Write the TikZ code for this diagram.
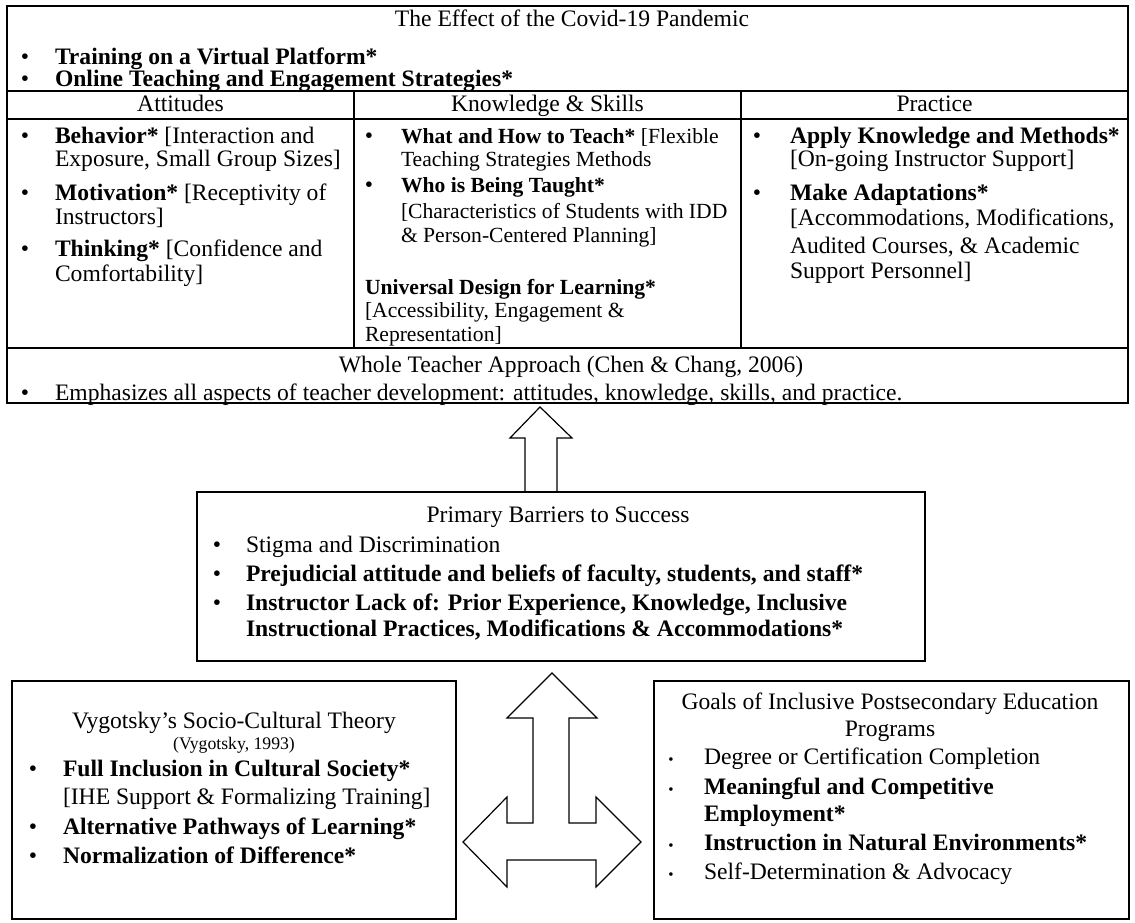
\documentclass[tikz,border=0pt]{standalone}
\usepackage{fontspec}
\setmainfont{Liberation Serif}
\newcommand{\fs}{\fontsize{23.6pt}{25pt}\selectfont}
\newcommand{\fsk}{\fontsize{21.6pt}{23pt}\selectfont}
\newcommand{\fss}{\fontsize{17.7pt}{19pt}\selectfont}
\newcommand{\fsb}{\fontsize{15pt}{15pt}\selectfont}
\tikzset{
  txt/.style={inner sep=0pt, outer sep=0pt, anchor=base west, font=\fs},
  ktxt/.style={inner sep=0pt, outer sep=0pt, anchor=base west, font=\fsk},
  ctr/.style={inner sep=0pt, outer sep=0pt, anchor=base, font=\fs},
  bul/.style={inner sep=0pt, outer sep=0pt, anchor=base, font=\fs},
  sbul/.style={inner sep=0pt, outer sep=0pt, anchor=base, font=\fsb},
  frame/.style={draw=black, line width=1.5pt, inner sep=0pt, outer sep=0pt},
  grid/.style={draw=black, line width=1.3pt},
  blockarrow/.style={draw=black, line width=1.2pt, fill=white, line join=miter}
}
\begin{document}
\begin{tikzpicture}[x=1pt,y=-1pt]
\useasboundingbox (0,0) rectangle (1135,923);
\fill[white] (0,0) rectangle (1135,923);

% ---------- top table ----------
\node[frame, minimum width=1121pt, minimum height=397pt] (tbl) at (567.5,204.5) {};
\draw[grid] (7,91) -- (1128,91);
\draw[grid] (7,119) -- (1128,119);
\draw[grid] (7,348) -- (1128,348);
\draw[grid] (354,91) -- (354,348);
\draw[grid] (741,91) -- (741,348);

\node[ctr] (covid) at (572,27) {The Effect of the Covid-19 Pandemic};
\node[bul] (cb1) at (25,65) {•};
\node[txt] (c1) at (55,65) {\textbf{Training on a Virtual Platform*}};
\node[bul] (cb2) at (25,87) {•};
\node[txt] (c2) at (55,87) {\textbf{Online Teaching and Engagement Strategies*}};

\node[ctr] (hatt) at (180.5,112) {Attitudes};
\node[ctr] (hks) at (547.5,112) {Knowledge \& Skills};
\node[ctr] (hpr) at (934.5,112) {Practice};

% Attitudes
\node[bul] (ab1) at (25,143) {•};
\node[txt] (a1) at (55,143) {\textbf{Behavior*} [Interaction and};
\node[txt] (a2) at (55,167) {Exposure, Small Group Sizes]};
\node[bul] (ab2) at (25,200) {•};
\node[txt] (a3) at (55,200) {\textbf{Motivation*} [Receptivity of};
\node[txt] (a4) at (55,224) {Instructors]};
\node[bul] (ab3) at (25,256) {•};
\node[txt] (a5) at (55,256) {\textbf{Thinking*} [Confidence and};
\node[txt] (a6) at (55,281) {Comfortability]};

% Knowledge & Skills
\node[bul] (kb1) at (369,143) {•};
\node[ktxt] (k1) at (401,143) {\textbf{What and How to Teach*} [Flexible};
\node[ktxt] (k2) at (401,167) {Teaching Strategies Methods};
\node[bul] (kb2) at (369,193) {•};
\node[ktxt] (k3) at (401,193) {\textbf{Who is Being Taught*}};
\node[ktxt] (k4) at (401,218) {[Characteristics of Students with IDD};
\node[ktxt] (k5) at (401,242) {\& Person-Centered Planning]};
\node[ktxt] (k6) at (365,294) {\textbf{Universal Design for Learning*}};
\node[ktxt] (k7) at (365,317) {[Accessibility, Engagement \&};
\node[ktxt] (k8) at (365,341) {Representation]};

% Practice
\node[bul] (pb1) at (757,143) {•};
\node[txt] (p1) at (790,143) {\textbf{Apply Knowledge and Methods*}};
\node[txt] (p2) at (790,167) {[On-going Instructor Support]};
\node[bul] (pb2) at (757,200) {•};
\node[txt] (p3) at (790,200) {\textbf{Make Adaptations*}};
\node[txt] (p4) at (790,225) {[Accommodations, Modifications,};
\node[txt] (p5) at (790,253) {Audited Courses, \& Academic};
\node[txt] (p6) at (790,278) {Support Personnel]};

% Whole teacher
\node[ctr] (wta) at (571,372) {Whole Teacher Approach (Chen \& Chang, 2006)};
\node[bul] (wb) at (25,400) {•};
\node[txt] (w1) at (55,400) {Emphasizes all aspects of teacher development: attitudes, knowledge, skills, and practice.};

% ---------- primary barriers ----------
\node[frame, minimum width=728pt, minimum height=169pt] (pbox) at (561,576.5) {};
\node[ctr] (pbt) at (558,522) {Primary Barriers to Success};
\node[bul] (bb1) at (217,552) {•};
\node[txt] (b1) at (246,552) {Stigma and Discrimination};
\node[bul] (bb2) at (217,581) {•};
\node[txt] (b2) at (246,581) {\textbf{Prejudicial attitude and beliefs of faculty, students, and staff*}};
\node[bul] (bb3) at (217,610) {•};
\node[txt] (b3) at (246,610) {\textbf{Instructor Lack of: Prior Experience, Knowledge, Inclusive}};
\node[txt] (b4) at (246,636) {\textbf{Instructional Practices, Modifications \& Accommodations*}};

% up arrow
\coordinate (ua1) at (540,407);
\draw[blockarrow] (ua1) -- (572,438) -- (557,438) -- (557,492) -- (525,492) -- (525,438) -- (510,438) -- cycle;
\draw[line width=1.5pt] (pbox.north west) -- (pbox.north east);

% ---------- Vygotsky ----------
\node[frame, minimum width=444pt, minimum height=238pt] (vbox) at (234,800) {};
\node[ctr] (vt) at (234,728) {Vygotsky’s Socio-Cultural Theory};
\node[inner sep=0pt, anchor=base, font=\fss] (vs) at (234,749) {(Vygotsky, 1993)};
\node[bul] (vb1) at (33,776) {•};
\node[txt] (v1) at (63,776) {\textbf{Full Inclusion in Cultural Society*}};
\node[txt] (v2) at (63,804) {[IHE Support \& Formalizing Training]};
\node[bul] (vb2) at (33,834) {•};
\node[txt] (v3) at (63,834) {\textbf{Alternative Pathways of Learning*}};
\node[bul] (vb3) at (33,863) {•};
\node[txt] (v4) at (63,863) {\textbf{Normalization of Difference*}};

% ---------- Goals ----------
\node[frame, minimum width=475pt, minimum height=238pt] (gbox) at (891.5,800) {};
\node[ctr] (gt1) at (890,709) {Goals of Inclusive Postsecondary Education};
\node[ctr] (gt2) at (890,736) {Programs};
\node[sbul] (gb1) at (671,764) {•};
\node[txt] (g1) at (704,764) {Degree or Certification Completion};
\node[sbul] (gb2) at (671,794) {•};
\node[txt] (g2) at (704,794) {\textbf{Meaningful and Competitive}};
\node[txt] (g3) at (704,821) {\textbf{Employment*}};
\node[sbul] (gb3) at (671,850) {•};
\node[txt] (g4) at (704,850) {\textbf{Instruction in Natural Environments*}};
\node[sbul] (gb4) at (671,879) {•};
\node[txt] (g5) at (704,879) {Self-Determination \& Advocacy};

% three-way arrow
\coordinate (ta) at (552,673);
\draw[blockarrow] (ta) -- (597,718) -- (569,718) -- (569,823) -- (596,823) -- (596,797)
  -- (641,842) -- (596,887) -- (596,860) -- (507,860) -- (507,887) -- (463,842)
  -- (507,797) -- (507,823) -- (533,823) -- (533,718) -- (507,718) -- cycle;
\end{tikzpicture}
\end{document}
